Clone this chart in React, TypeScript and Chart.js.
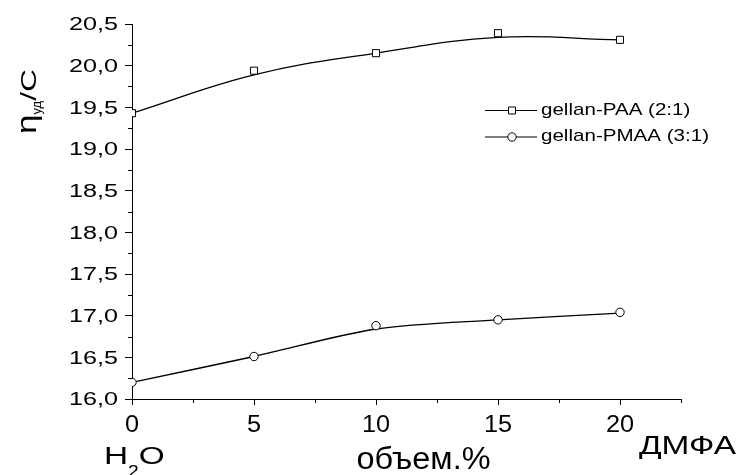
import React, { useEffect, useRef } from 'react';
import { Chart, registerables } from 'chart.js';

Chart.register(...registerables);

// ---- data ----
const xValues = [0, 5, 10, 15, 20];
const paaPoints = [19.43, 19.94, 20.15, 20.39, 20.31];
const paaCurve = [19.43, 19.89, 20.15, 20.34, 20.31];
const pmaaPoints = [16.2, 16.51, 16.88, 16.95, 17.04];
const pmaaCurve = [16.2, 16.51, 16.84, 16.95, 17.03];

const seriesLabels = ['gellan-PAA (2:1)', 'gellan-PMAA (3:1)'];

const xTickValues = [0, 5, 10, 15, 20];
const xMinorTicks = [2.5, 7.5, 12.5, 17.5, 22.5];
const yTickValues = [16, 16.5, 17, 17.5, 18, 18.5, 19, 19.5, 20, 20.5];
const yMinorTicks = [16.25, 16.75, 17.25, 17.75, 18.25, 18.75, 19.25, 19.75, 20.25];

const xTitleLeft = ['H', '2', 'O'];
const xTitleMid = 'объем.%';
const xTitleRight = 'ДМФА';
const yTitleParts = ['η', 'уд', '/C'];

const FONT = '"Liberation Sans", Arial, sans-serif';

function drawStretched(
  ctx: CanvasRenderingContext2D,
  text: string,
  x: number,
  y: number,
  size: number,
  sx: number,
  align: CanvasTextAlign = 'left'
) {
  ctx.save();
  ctx.font = `${size}px ${FONT}`;
  ctx.translate(x, y);
  ctx.scale(sx, 1);
  ctx.textAlign = align;
  ctx.textBaseline = 'alphabetic';
  ctx.fillText(text, 0, 0);
  ctx.restore();
}

function fitScale(ctx: CanvasRenderingContext2D, text: string, size: number, target: number) {
  ctx.save();
  ctx.font = `${size}px ${FONT}`;
  const w = ctx.measureText(text).width;
  ctx.restore();
  return target / w;
}

function textWidth(ctx: CanvasRenderingContext2D, text: string, size: number) {
  ctx.save();
  ctx.font = `${size}px ${FONT}`;
  const w = ctx.measureText(text).width;
  ctx.restore();
  return w;
}

const decorPlugin = {
  id: 'decor',
  afterDraw(chart: any) {
    const ctx: CanvasRenderingContext2D = chart.ctx;
    const xs = chart.scales.x;
    const ys = chart.scales.y;
    const area = chart.chartArea;
    ctx.save();
    ctx.fillStyle = '#000';
    ctx.strokeStyle = '#000';
    ctx.lineWidth = 1;

    // minor ticks
    ctx.beginPath();
    xMinorTicks.forEach((v) => {
      const px = Math.round(xs.getPixelForValue(v)) + 0.5;
      ctx.moveTo(px, area.bottom);
      ctx.lineTo(px, area.bottom + 4);
    });
    yMinorTicks.forEach((v) => {
      const py = Math.round(ys.getPixelForValue(v)) + 0.5;
      ctx.moveTo(area.left - 4, py);
      ctx.lineTo(area.left, py);
    });
    ctx.stroke();

    // y tick labels
    const ySize = 18;
    const ySx = fitScale(ctx, '20,5', ySize, 49);
    ys.ticks.forEach((t: any) => {
      const py = ys.getPixelForValue(t.value);
      const label = t.value.toFixed(1).replace('.', ',');
      drawStretched(ctx, label, area.left - 14, py + ySize * 0.358, ySize, ySx, 'right');
    });

    // x tick labels
    const xSize = 23;
    xs.ticks.forEach((t: any) => {
      const px = xs.getPixelForValue(t.value);
      drawStretched(ctx, String(t.value), px, area.bottom + 32.5, xSize, 1.1, 'center');
    });

    // x titles
    // H2O
    const hSx = 1.45;
    let cx = 104;
    drawStretched(ctx, xTitleLeft[0], cx, 463.5, 23, hSx);
    cx += textWidth(ctx, xTitleLeft[0], 23) * hSx;
    drawStretched(ctx, xTitleLeft[1], cx, 477, 16, 1.2);
    cx += textWidth(ctx, xTitleLeft[1], 16) * 1.2;
    drawStretched(ctx, xTitleLeft[2], cx, 463.5, 23, hSx);

    const midSx = fitScale(ctx, xTitleMid, 31, 134);
    drawStretched(ctx, xTitleMid, 423.5, 468.5, 31, midSx, 'center');

    const rSx = fitScale(ctx, xTitleRight, 25, 97);
    drawStretched(ctx, xTitleRight, 639, 453.5, 25, rSx);

    // y title (rotated)
    ctx.save();
    ctx.translate(36, 134);
    ctx.rotate(-Math.PI / 2);
    let tx = 0;
    const etaSize = 27, subSize = 13, restSize = 22;
    const tSx = 1.3;
    drawStretched(ctx, yTitleParts[0], tx, 0, etaSize, tSx);
    tx += textWidth(ctx, yTitleParts[0], etaSize) * tSx;
    drawStretched(ctx, yTitleParts[1], tx, 5, subSize, 1.0);
    tx += textWidth(ctx, yTitleParts[1], subSize) * 1.0;
    drawStretched(ctx, yTitleParts[2], tx, 0, restSize, 1.45);
    ctx.restore();

    // legend
    const legSize = 17;
    const legSx = fitScale(ctx, seriesLabels[1], legSize, 168);
    const rows = [110.5, 137];
    rows.forEach((ry, i) => {
      ctx.beginPath();
      ctx.moveTo(485, ry);
      ctx.lineTo(537, ry);
      ctx.lineWidth = 1.2;
      ctx.stroke();
      ctx.lineWidth = 1;
      ctx.beginPath();
      if (i === 0) {
        ctx.rect(508.5, ry - 3.5, 7, 7);
      } else {
        ctx.arc(512, ry, 4.2, 0, Math.PI * 2);
      }
      ctx.fillStyle = '#fff';
      ctx.fill();
      ctx.stroke();
      ctx.fillStyle = '#000';
      drawStretched(ctx, seriesLabels[i], 541, ry + 4.3, legSize, legSx);
    });

    ctx.restore();
  },
};

export default function App() {
  const canvasRef = useRef<HTMLCanvasElement | null>(null);

  useEffect(() => {
    if (!canvasRef.current) return;
    const toXY = (ys: number[]) => xValues.map((x, i) => ({ x, y: ys[i] }));
    const chart = new Chart(canvasRef.current, {
      type: 'line',
      data: {
        datasets: [
          {
            label: seriesLabels[0],
            data: toXY(paaPoints),
            showLine: false,
            pointStyle: 'rect',
            pointRadius: 5,
            pointBorderWidth: 1,
            pointBackgroundColor: '#fff',
            pointBorderColor: '#000',
            borderColor: '#000',
            order: 0,
          },
          {
            label: seriesLabels[1],
            data: toXY(pmaaPoints),
            showLine: false,
            pointStyle: 'circle',
            pointRadius: 4.2,
            pointBorderWidth: 1,
            pointBackgroundColor: '#fff',
            pointBorderColor: '#000',
            borderColor: '#000',
            order: 0,
          },
          {
            label: 'PAA fit',
            data: toXY(paaCurve),
            borderColor: '#000',
            borderWidth: 1.3,
            pointRadius: 0,
            tension: 0.4,
            fill: false,
            order: 1,
          },
          {
            label: 'PMAA fit',
            data: toXY(pmaaCurve),
            borderColor: '#000',
            borderWidth: 1.3,
            pointRadius: 0,
            tension: 0.3,
            fill: false,
            order: 1,
          },
        ],
      },
      options: {
        animation: false,
        responsive: true,
        maintainAspectRatio: false,
        events: [],
        layout: { padding: { left: 0, top: 24, right: 56, bottom: 0 } },
        plugins: {
          legend: { display: false },
          tooltip: { enabled: false },
        },
        scales: {
          x: {
            type: 'linear',
            min: 0,
            max: 22.5,
            afterBuildTicks: (s: any) => {
              s.ticks = xTickValues.map((v) => ({ value: v }));
            },
            afterFit: (s: any) => {
              s.height = 76;
            },
            grid: {
              display: true,
              drawOnChartArea: false,
              drawTicks: true,
              tickLength: 6,
              color: '#000',
              tickColor: '#000',
            },
            border: { display: true, color: '#000', width: 1 },
            ticks: { display: false },
          },
          y: {
            type: 'linear',
            min: 16,
            max: 20.5,
            afterBuildTicks: (s: any) => {
              s.ticks = yTickValues.map((v) => ({ value: v }));
            },
            afterFit: (s: any) => {
              s.width = 132;
            },
            grid: {
              display: true,
              drawOnChartArea: false,
              drawTicks: true,
              tickLength: 7,
              color: '#000',
              tickColor: '#000',
            },
            border: { display: true, color: '#000', width: 1 },
            ticks: { display: false },
          },
        },
      },
      plugins: [decorPlugin],
    } as any);
    return () => chart.destroy();
  }, []);

  return (
    <div
      style={{
        position: 'absolute',
        left: 0,
        top: 0,
        width: 737,
        height: 475,
        background: '#fff',
      }}
    >
      <canvas ref={canvasRef} />
    </div>
  );
}
